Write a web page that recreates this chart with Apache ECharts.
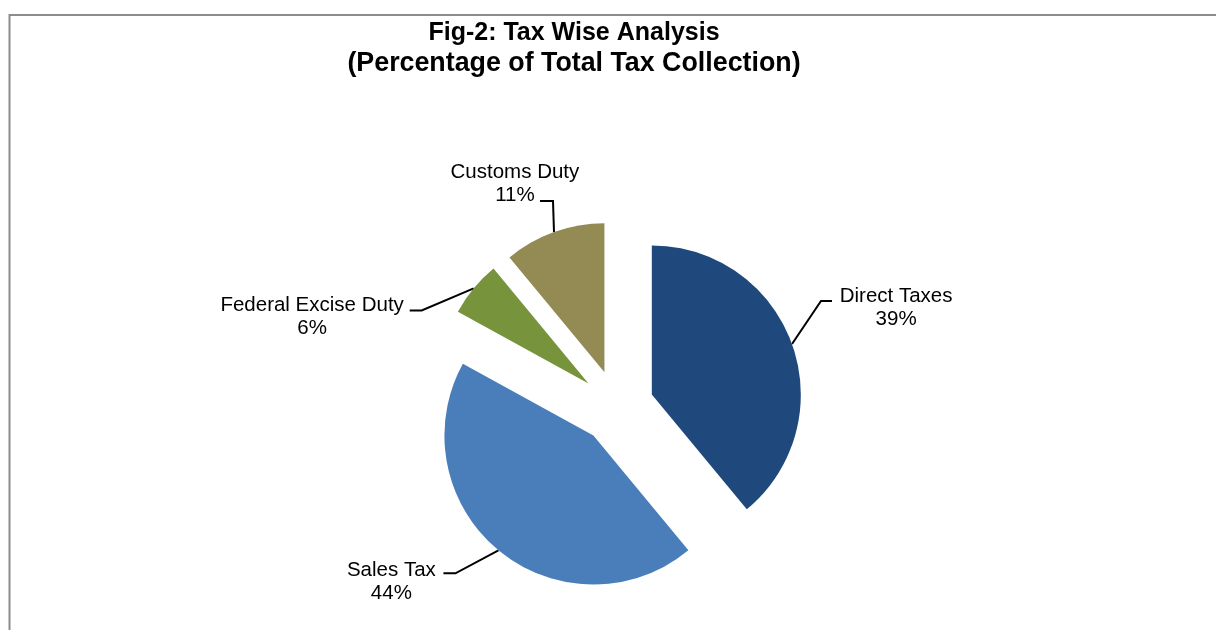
<!DOCTYPE html>
<html>
<head>
<meta charset="utf-8">
<script src="https://cdn.jsdelivr.net/npm/echarts@6/dist/echarts.min.js"></script>
<style>
html,body{margin:0;padding:0;background:#fff;}
#chart{width:1216px;height:630px;}
</style>
</head>
<body>
<div id="chart"></div>
<script>
// ---- data ----
const categories = ['Direct Taxes', 'Sales Tax', 'Federal Excise Duty', 'Customs Duty'];
const shares = [39, 44, 6, 11];
const titleLines = ['Fig-2: Tax Wise Analysis', '(Percentage of Total Tax Collection)'];

// ---- style ----
const colors = ['#1F497D', '#4A7EBB', '#77933C', '#948A54'];
const PIE_CENTER = [617, 407];
const PIE_RADIUS = 149;
const EXPLODE = 37;
const LABEL_LINE_HEIGHT = 23;
// leader line shape: elbow offset from slice edge, horizontal run
const leaderElbow = [[29, -43], [-43, 23], [-52, 22], [-1, -31]];
const leaderRun = [11, -12, -12, -13];
// extra nudge of each label block from its default spot
const labelNudge = [[55, -31], [-62.5, 20], [-115, 37.5], [1, -34.5]];

const total = shares.reduce((a, b) => a + b, 0);
function midAngle(i) {
  let cum = 0;
  for (let k = 0; k < i; k++) cum += shares[k];
  return 2 * Math.PI * (cum + shares[i] / 2) / total; // clockwise from 12 o'clock
}
// horizontal nudge through left/right padding (centre aligned),
// vertical nudge through top/bottom alignment plus padding
function nudgeVAlign(n) {
  return n[1] > 0 ? 'top' : (n[1] < 0 ? 'bottom' : 'middle');
}
function nudgePadding(n) {
  const half = LABEL_LINE_HEIGHT; // half of a two-line block
  const top = n[1] > 0 ? n[1] - half : 0;
  const bottom = n[1] < 0 ? -n[1] - half : 0;
  return [top, Math.max(0, -2 * n[0]), bottom, Math.max(0, 2 * n[0])];
}

const chart = echarts.init(document.getElementById('chart'), null, {renderer: 'canvas'});
chart.setOption({
  animation: false,
  backgroundColor: '#ffffff',
  title: {
    text: titleLines[0],
    subtext: titleLines[1],
    left: 574,
    top: 17.5,
    padding: 0,
    itemGap: 0,
    textAlign: 'center',
    textStyle: {
      fontFamily: 'Liberation Sans',
      fontWeight: 'bold',
      fontSize: 25,
      lineHeight: 31,
      color: '#000'
    },
    subtextStyle: {
      fontFamily: 'Liberation Sans',
      fontWeight: 'bold',
      fontSize: 26.8,
      lineHeight: 31,
      color: '#000'
    }
  },
  graphic: [{
    type: 'rect',
    silent: true,
    shape: {x: 9.5, y: 15, width: 1260, height: 700},
    style: {fill: 'none', stroke: '#8c8c8c', lineWidth: 2}
  }],
  series: [{
    type: 'pie',
    center: PIE_CENTER,
    radius: PIE_RADIUS,
    startAngle: 90,
    clockwise: true,
    avoidLabelOverlap: false,
    selectedMode: 'multiple',
    selectedOffset: EXPLODE,
    emphasis: {disabled: true},
    itemStyle: {borderWidth: 0},
    label: {
      show: true,
      position: 'outside',
      formatter: '{b}\n{c}%',
      fontFamily: 'Liberation Sans',
      fontSize: 20.5,
      lineHeight: LABEL_LINE_HEIGHT,
      color: '#000'
    },
    labelLine: {
      show: true,
      smooth: false,
      lineStyle: {color: '#000', width: 2}
    },
    labelLayout: function (params) {
      const i = params.dataIndex;
      const a = midAngle(i);
      const dx = Math.sin(a), dy = -Math.cos(a);
      // the exploded offset is added by the selected state itself
      const anchor = [PIE_CENTER[0] + PIE_RADIUS * dx, PIE_CENTER[1] + PIE_RADIUS * dy];
      const elbow = [anchor[0] + leaderElbow[i][0], anchor[1] + leaderElbow[i][1]];
      const end = [elbow[0] + leaderRun[i], elbow[1]];
      return {
        align: 'center',
        verticalAlign: nudgeVAlign(labelNudge[i]),
        labelLinePoints: [anchor, elbow, end]
      };
    },
    data: categories.map((name, i) => ({
      name: name,
      value: shares[i],
      selected: true,
      itemStyle: {color: colors[i]},
      label: {padding: nudgePadding(labelNudge[i])}
    }))
  }]
});
</script>
</body>
</html>
